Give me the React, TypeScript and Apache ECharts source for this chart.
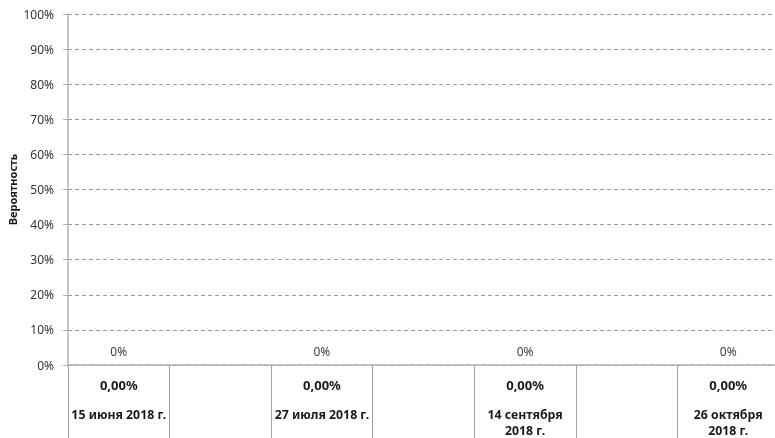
import React, { useEffect, useRef } from "react";
import * as echarts from "echarts";

const categories: string[] = ["15 июня 2018 г.", "", "27 июля 2018 г.", "", "14 сентября\n2018 г.", "", "26 октября\n2018 г."];
const tableValues: string[] = ["0,00%", "", "0,00%", "", "0,00%", "", "0,00%"];
const probability: (number | string)[] = [0, "-", 0, "-", 0, "-", 0];
const yTicks: number[] = [0, 0.1, 0.2, 0.3, 0.4, 0.5, 0.6, 0.7, 0.8, 0.9, 1];

const FONT = "Noto Sans";

export default function App() {
  const ref = useRef<HTMLDivElement>(null);
  useEffect(() => {
    document.body.style.margin = "0";
    const chart = echarts.init(ref.current!, null, { renderer: "svg" });
    chart.setOption({
      animation: false,
      textStyle: { fontFamily: FONT },
      grid: { left: 68, top: 14, right: -4, bottom: 73, containLabel: false, outerBoundsMode: "none" },
      xAxis: {
        type: "category",
        data: categories,
        boundaryGap: true,
        axisLine: { show: true, lineStyle: { color: "#b0b0b0", width: 1.5 } },
        axisTick: { show: true, interval: 0, length: 73, lineStyle: { color: "#a0a0a0", width: 1 } },
        axisLabel: {
          interval: 0,
          margin: 6,
          formatter: (val: string, idx: number) => {
            if (!val) return "";
            const lines = val.split("\n").map((l) => `{d|${l}}`).join("\n");
            return `{v|${tableValues[idx]}}\n{s|}\n${lines}`;
          },
          rich: {
            v: { fontFamily: FONT, fontSize: 13, fontWeight: "bold", color: "#1a1a1a", lineHeight: 28 },
            s: { lineHeight: 7, fontSize: 1 },
            d: { fontFamily: FONT, fontSize: 12.3, fontWeight: "bold", color: "#1a1a1a", lineHeight: 16 },
          },
        },
        splitLine: { show: false },
      },
      yAxis: {
        type: "value",
        min: 0,
        max: 1,
        interval: 0.1,
        name: "Вероятность",
        nameLocation: "middle",
        nameRotate: 90,
        nameGap: 50,
        nameMoveOverlap: false,
        nameTextStyle: { fontFamily: FONT, fontSize: 11, fontWeight: "bold", color: "#1a1a1a" },
        axisLine: { show: true, lineStyle: { color: "#b0b0b0", width: 1.5 } },
        axisTick: { show: true, length: 5, lineStyle: { color: "#b0b0b0" } },
        axisLabel: {
          margin: 14,
          fontFamily: FONT,
          fontSize: 12,
          color: "#333333",
          formatter: (v: number) => (yTicks.includes(Math.round(v * 10) / 10) ? `${Math.round(v * 100)}%` : ""),
        },
        splitLine: { show: true, lineStyle: { color: "#999999", type: [4, 3], width: 1 } },
      },
      series: [
        {
          type: "bar",
          data: probability,
          barWidth: "60%",
          itemStyle: { color: "#4f81bd" },
          label: {
            show: true,
            position: "top",
            distance: 8,
            fontFamily: FONT,
            fontSize: 12,
            color: "#404040",
            formatter: (p: any) => `${Math.round(p.value * 100)}%`,
          },
        },
      ],
    });
    return () => chart.dispose();
  }, []);
  return <div ref={ref} style={{ position: "fixed", left: 0, top: 0, width: 775, height: 438 }} />;
}
